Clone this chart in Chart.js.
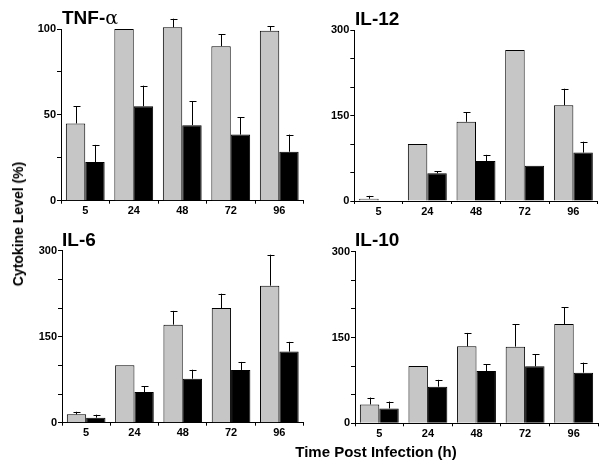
<!DOCTYPE html>
<html>
<head>
<meta charset="utf-8">
<script src="https://cdn.jsdelivr.net/npm/chart.js@4"></script>
<style>
    body { margin: 0; background: #fff; width: 607px; height: 473px; position: relative; overflow: hidden; font-family: 'Liberation Sans', Arial, sans-serif; }
    canvas { position: absolute; }
    .panel-title { position: absolute; font-weight: bold; font-size: 19px; line-height: 19px; color: #000; }
    .axis-label { position: absolute; font-weight: bold; color: #000; white-space: nowrap; }
</style>
</head>
<body>
<canvas id="tnf-chart" width="310" height="225" style="left:0;top:0"></canvas>
<canvas id="il12-chart" width="307" height="225" style="left:300px;top:0"></canvas>
<canvas id="il6-chart" width="310" height="225" style="left:0;top:225px"></canvas>
<canvas id="il10-chart" width="307" height="225" style="left:300px;top:225px"></canvas>

<div class="panel-title" style="left:62px;top:8px">TNF-<span style="font-weight:normal;font-family:'DejaVu Serif',serif">α</span></div>
<div class="panel-title" style="left:355px;top:9px">IL-12</div>
<div class="panel-title" style="left:62px;top:230px">IL-6</div>
<div class="panel-title" style="left:355px;top:230px">IL-10</div>

<div class="axis-label" style="font-size:14px;left:18px;top:224px;transform:translate(-50%,-50%) rotate(-90deg)">Cytokine Level (%)</div>
<div class="axis-label" style="font-size:15px;left:376px;top:451px;transform:translate(-50%,-50%)">Time Post Infection (h)</div>

<script>
// Time points (h)
const timePoints = ['5', '24', '48', '72', '96'];

// TNF-alpha (%), gray = control, black = treated
const tnfGray = [45, 100, 101, 90, 99];
const tnfGrayErr = [10, 0, 5, 7, 2.5];
const tnfBlack = [22.5, 55, 44, 38.5, 28.5];
const tnfBlackErr = [10, 12, 14, 10, 10];

// IL-12
const il12Gray = [4, 100, 139, 265, 168];
const il12GrayErr = [5, 0, 17, 0, 29];
const il12Black = [1, 48.6, 70, 62, 85];
const il12BlackErr = [0, 3.5, 11, 0, 19];

// IL-6
const il6Gray = [14.6, 100, 171, 200, 239];
const il6GrayErr = [4.5, 0, 24, 25, 54];
const il6Black = [8.7, 53.5, 76.7, 92, 124];
const il6BlackErr = [5.3, 10.5, 15.7, 14, 17];

// IL-10
const il10Gray = [33, 100, 134.6, 134, 173.6];
const il10GrayErr = [12, 0, 23.4, 39, 29];
const il10Black = [26, 64, 91.4, 99.6, 88.5];
const il10BlackErr = [12, 12, 11.6, 21, 17.5];

const GRAY = '#c6c6c6';
const tickFont = { family: "'Liberation Sans', Arial, sans-serif", size: 11, weight: 'bold' };

// Plugin that draws one-sided (upper) error bars with a cap
const errorBarPlugin = {
    id: 'errorBars',
    afterDatasetsDraw(chart) {
        const ctx = chart.ctx;
        const yScale = chart.scales.y;
        chart.data.datasets.forEach((dataset, i) => {
            const meta = chart.getDatasetMeta(i);
            const errors = dataset.errors || [];
            meta.data.forEach((bar, j) => {
                const err = errors[j];
                if (!err) return;
                const top = yScale.getPixelForValue(dataset.data[j] + err);
                const x = Math.round(bar.x) + 0.5;
                ctx.save();
                ctx.strokeStyle = '#000';
                ctx.lineWidth = 1;
                ctx.beginPath();
                ctx.moveTo(x, bar.y);
                ctx.lineTo(x, top);
                ctx.moveTo(x - 3, Math.round(top) + 0.5);
                ctx.lineTo(x + 4, Math.round(top) + 0.5);
                ctx.stroke();
                ctx.restore();
            });
        });
    }
};

// Function to create one cytokine panel
function createPanel(canvasId, gray, grayErr, black, blackErr, yMax, yStep, labelEvery, layout) {
    const chartCanvas = document.getElementById(canvasId);
    return new Chart(chartCanvas, {
        type: 'bar',
        data: {
            labels: timePoints,
            datasets: [{
                data: gray,
                errors: grayErr,
                backgroundColor: GRAY,
                borderColor: '#000',
                borderWidth: 1,
                clip: false
            }, {
                data: black,
                errors: blackErr,
                backgroundColor: '#000',
                borderColor: '#000',
                borderWidth: 1,
                clip: false
            }]
        },
        options: {
            responsive: false,
            animation: false,
            devicePixelRatio: 1,
            layout: { padding: { left: 0, right: layout.right, top: layout.top, bottom: 0 } },
            datasets: { bar: { categoryPercentage: 0.8, barPercentage: 1 } },
            plugins: {
                legend: { display: false },
                title: { display: false },
                tooltip: { enabled: false }
            },
            scales: {
                x: {
                    grid: { display: true, drawOnChartArea: false, offset: true, tickLength: 3, color: '#000' },
                    border: { display: true, color: '#000', width: 1 },
                    ticks: { color: '#000', font: tickFont, padding: 1, maxRotation: 0 },
                    afterFit: scale => { scale.height = layout.xHeight; }
                },
                y: {
                    min: 0,
                    max: yMax,
                    grid: { display: true, drawOnChartArea: false, tickLength: 4, color: '#000' },
                    border: { display: true, color: '#000', width: 1 },
                    ticks: {
                        color: '#000',
                        font: tickFont,
                        padding: 1,
                        stepSize: yStep,
                        autoSkip: false,
                        callback: value => (value % labelEvery === 0 ? value : '')
                    },
                    afterFit: scale => { scale.width = layout.yWidth; }
                }
            }
        },
        plugins: [errorBarPlugin]
    });
}

createPanel('tnf-chart', tnfGray, tnfGrayErr, tnfBlack, tnfBlackErr, 100, 25, 50,
    { yWidth: 61, right: 6.5, top: 29, xHeight: 24.3 });
createPanel('il12-chart', il12Gray, il12GrayErr, il12Black, il12BlackErr, 300, 50, 150,
    { yWidth: 54.3, right: 9.3, top: 30, xHeight: 24 });
createPanel('il6-chart', il6Gray, il6GrayErr, il6Black, il6BlackErr, 300, 50, 150,
    { yWidth: 62, right: 6.5, top: 25.7, xHeight: 27.3 });
createPanel('il10-chart', il10Gray, il10GrayErr, il10Black, il10BlackErr, 300, 50, 150,
    { yWidth: 55, right: 9, top: 26.7, xHeight: 26.7 });
</script>
</body>
</html>
